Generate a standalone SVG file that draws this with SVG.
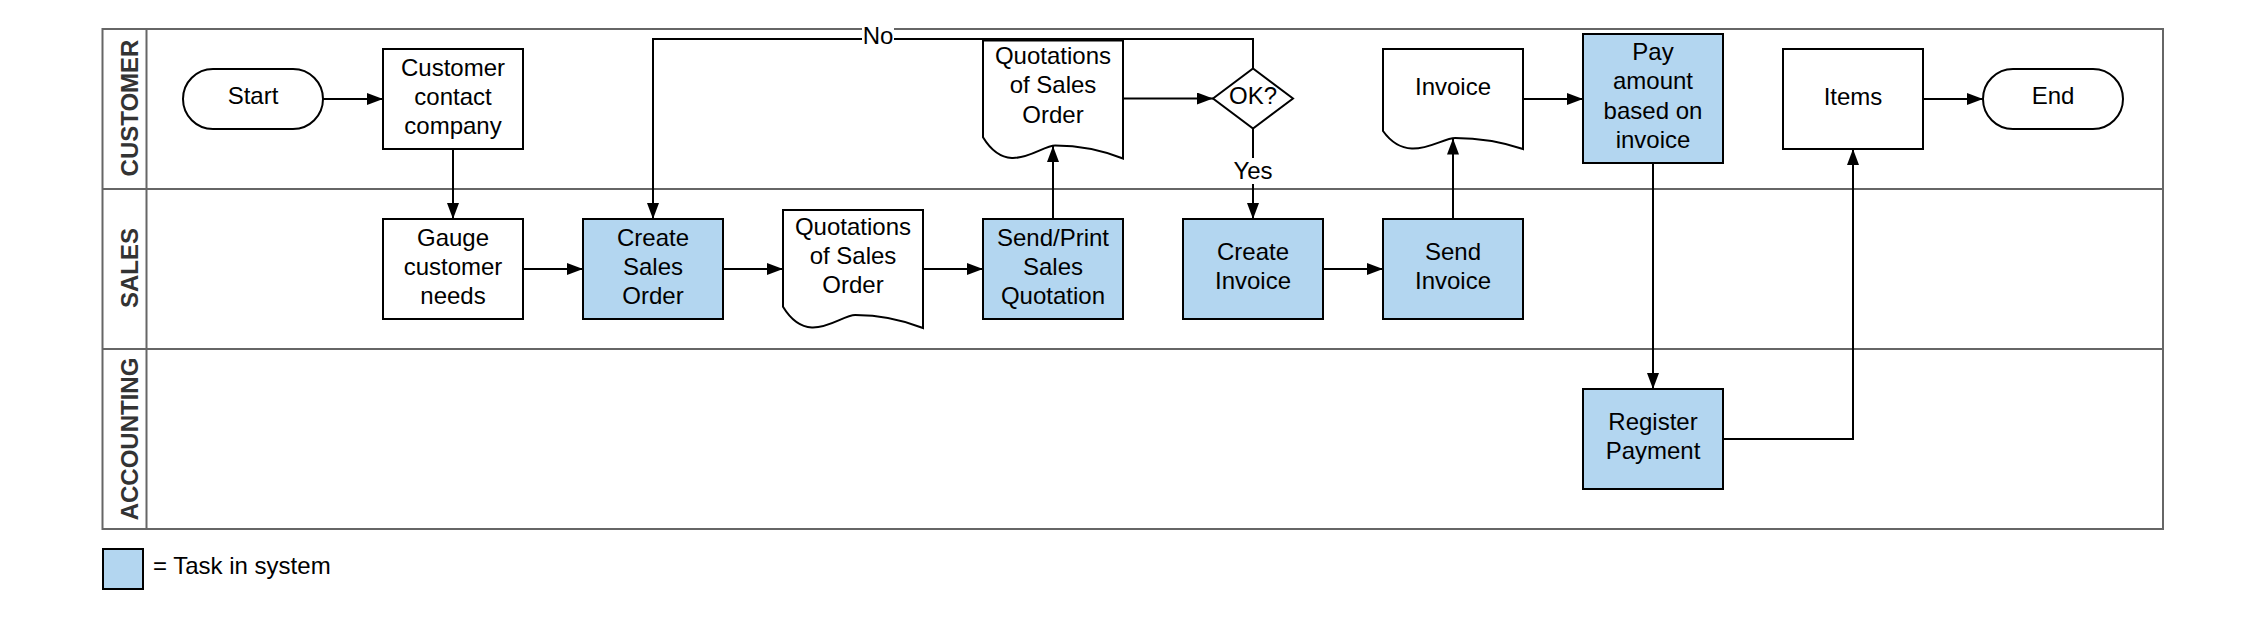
<svg xmlns="http://www.w3.org/2000/svg" width="2266" height="627" viewBox="0 0 2266 627">
  <style>
    .lane{fill:none;stroke:#666;stroke-width:2}
    .node{stroke:#000;stroke-width:2;fill:#fff}
    .task{fill:#b3d6f0}
    .t{font-family:"Liberation Sans",Arial,sans-serif;font-size:24px;fill:#000;text-anchor:middle}
    .hdr{font-weight:bold;fill:#333}
    .conn{fill:none;stroke:#000;stroke-width:2}
    .lblbg{fill:#fff;stroke:none}
  </style>
  <defs>
    <marker id="arr" markerUnits="userSpaceOnUse" markerWidth="16" markerHeight="12" refX="16" refY="6" orient="auto">
      <path d="M0,0 L16,6 L0,12 Z" fill="#000"/>
    </marker>
  </defs>
  <rect width="2266" height="627" fill="#fff"/>

  <g id="pool">
    <rect class="lane" x="102.5" y="29" width="2060.5" height="500"/>
    <line class="lane" x1="146.5" y1="29" x2="146.5" y2="529"/>
    <line class="lane" x1="102.5" y1="189" x2="2163" y2="189"/>
    <line class="lane" x1="102.5" y1="349" x2="2163" y2="349"/>
    <text class="t hdr" transform="translate(138,108) rotate(-90)">CUSTOMER</text>
    <text class="t hdr" transform="translate(138,268) rotate(-90)">SALES</text>
    <text class="t hdr" transform="translate(138,439) rotate(-90)">ACCOUNTING</text>
  </g>

  <g id="start">
    <rect class="node" x="183" y="69" width="140" height="60" rx="30"/>
    <text class="t" x="253" y="104">Start</text>
  </g>
  <g id="customer-contact">
    <rect class="node" x="383" y="49" width="140" height="100"/>
    <text class="t"><tspan x="453" y="75.5">Customer</tspan><tspan x="453" y="104.5">contact</tspan><tspan x="453" y="133.5">company</tspan></text>
  </g>
  <g id="gauge">
    <rect class="node" x="383" y="219" width="140" height="100"/>
    <text class="t"><tspan x="453" y="245.5">Gauge</tspan><tspan x="453" y="274.5">customer</tspan><tspan x="453" y="303.5">needs</tspan></text>
  </g>
  <g id="create-sales-order">
    <rect class="node task" x="583" y="219" width="140" height="100"/>
    <text class="t"><tspan x="653" y="245.5">Create</tspan><tspan x="653" y="274.5">Sales</tspan><tspan x="653" y="303.5">Order</tspan></text>
  </g>
  <g id="quotation-doc-sales">
    <path class="node" d="M783,210 H923 V328 C902,319.7 878.2,315 855.2,315 C839,315 808.2,348.1 783,306.8 Z"/>
    <text class="t"><tspan x="853" y="234.5">Quotations</tspan><tspan x="853" y="263.5">of Sales</tspan><tspan x="853" y="292.5">Order</tspan></text>
  </g>
  <g id="send-print-quotation">
    <rect class="node task" x="983" y="219" width="140" height="100"/>
    <text class="t"><tspan x="1053" y="245.5">Send/Print</tspan><tspan x="1053" y="274.5">Sales</tspan><tspan x="1053" y="303.5">Quotation</tspan></text>
  </g>
  <g id="quotation-doc-customer">
    <path class="node" d="M983,40.5 H1123 V158.5 C1102,150.2 1078.2,145.5 1055.2,145.5 C1039,145.5 1008.2,178.6 983,137.3 Z"/>
    <text class="t"><tspan x="1053" y="63.5">Quotations</tspan><tspan x="1053" y="93">of Sales</tspan><tspan x="1053" y="122.5">Order</tspan></text>
  </g>
  <g id="ok-decision">
    <path class="node" d="M1213,98.5 L1253,68.5 L1293,98.5 L1253,128.5 Z"/>
    <text class="t" x="1253" y="104">OK?</text>
  </g>
  <g id="create-invoice">
    <rect class="node task" x="1183" y="219" width="140" height="100"/>
    <text class="t"><tspan x="1253" y="259.5">Create</tspan><tspan x="1253" y="288.5">Invoice</tspan></text>
  </g>
  <g id="send-invoice">
    <rect class="node task" x="1383" y="219" width="140" height="100"/>
    <text class="t"><tspan x="1453" y="259.5">Send</tspan><tspan x="1453" y="288.5">Invoice</tspan></text>
  </g>
  <g id="invoice-doc">
    <path class="node" d="M1383,49 H1523 V149 C1502,142 1478.2,138 1455.2,138 C1439,138 1408.2,166 1383,131 Z"/>
    <text class="t" x="1453" y="95">Invoice</text>
  </g>
  <g id="pay-amount">
    <rect class="node task" x="1583" y="34" width="140" height="129"/>
    <text class="t"><tspan x="1653" y="60">Pay</tspan><tspan x="1653" y="89.3">amount</tspan><tspan x="1653" y="118.6">based on</tspan><tspan x="1653" y="148">invoice</tspan></text>
  </g>
  <g id="register-payment">
    <rect class="node task" x="1583" y="389" width="140" height="100"/>
    <text class="t"><tspan x="1653" y="429.5">Register</tspan><tspan x="1653" y="458.8">Payment</tspan></text>
  </g>
  <g id="items">
    <rect class="node" x="1783" y="49" width="140" height="100"/>
    <text class="t" x="1853" y="104.5">Items</text>
  </g>
  <g id="end">
    <rect class="node" x="1983" y="69" width="140" height="60" rx="30"/>
    <text class="t" x="2053" y="104">End</text>
  </g>

  <g id="connectors">
    <path class="conn" marker-end="url(#arr)" d="M323,99 H383"/>
    <path class="conn" marker-end="url(#arr)" d="M453,149 V219"/>
    <path class="conn" marker-end="url(#arr)" d="M523,269 H583"/>
    <path class="conn" marker-end="url(#arr)" d="M723,269 H783"/>
    <path class="conn" marker-end="url(#arr)" d="M923,269 H983"/>
    <path class="conn" marker-end="url(#arr)" d="M1053,219 V146"/>
    <path class="conn" marker-end="url(#arr)" d="M1123,98.5 H1213"/>
    <path class="conn" marker-end="url(#arr)" d="M1253,128.5 V219"/>
    <path class="conn" marker-end="url(#arr)" d="M1253,68.5 V39 H653 V219"/>
    <path class="conn" marker-end="url(#arr)" d="M1323,269 H1383"/>
    <path class="conn" marker-end="url(#arr)" d="M1453,219 V138.5"/>
    <path class="conn" marker-end="url(#arr)" d="M1523,99 H1583"/>
    <path class="conn" marker-end="url(#arr)" d="M1653,163 V389"/>
    <path class="conn" marker-end="url(#arr)" d="M1723,439 H1853 V149"/>
    <path class="conn" marker-end="url(#arr)" d="M1923,99 H1983"/>
    <rect class="lblbg" x="862" y="26" width="32" height="21"/>
    <text class="t" x="878" y="43.5">No</text>
    <rect class="lblbg" x="1232" y="158" width="42" height="26"/>
    <text class="t" x="1253" y="178.5">Yes</text>
  </g>

  <g id="legend">
    <rect class="node task" x="103" y="549" width="40" height="40"/>
    <text class="t" x="153" y="573.5" style="text-anchor:start">= Task in system</text>
  </g>
</svg>
